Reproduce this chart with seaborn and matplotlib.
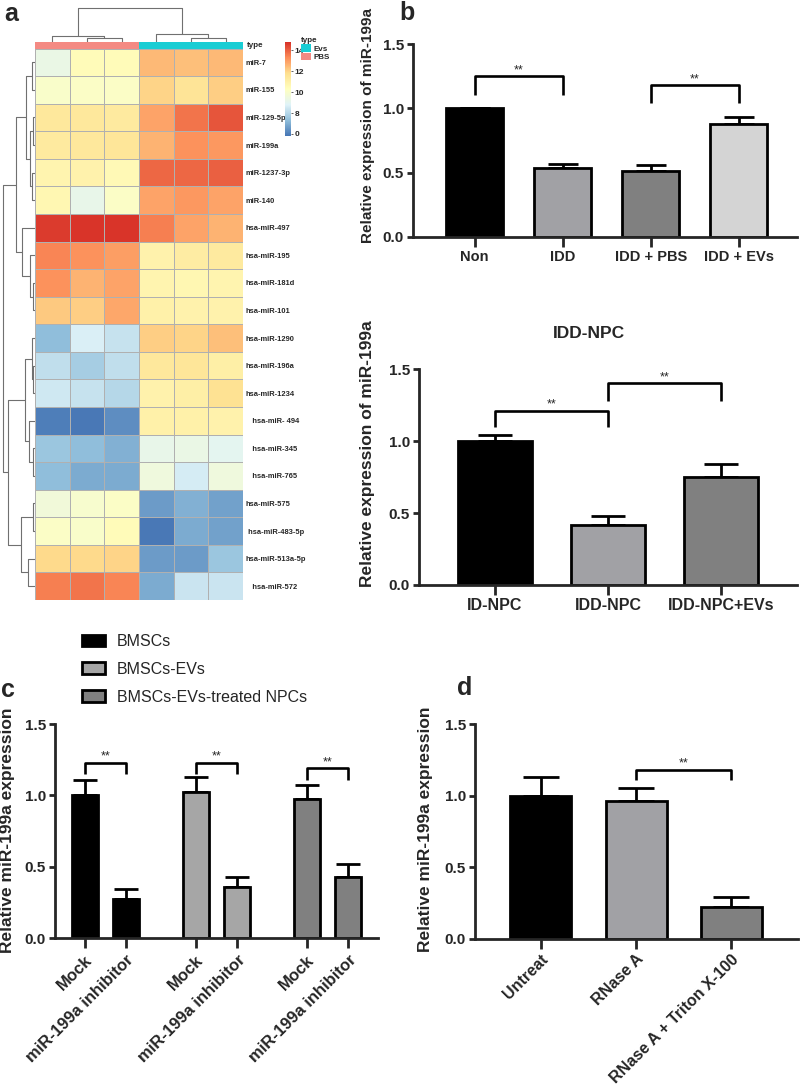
import matplotlib
matplotlib.use('Agg')
import matplotlib.pyplot as plt
import seaborn as sns
import pandas as pd
import numpy as np
from matplotlib.colors import LinearSegmentedColormap, ListedColormap
from matplotlib.patches import Patch

# ---------------- data ----------------
# panel a heatmap (3 PBS columns, then 3 EVs columns)
mirnas = ['miR-7', 'miR-155', 'miR-129-5p', 'miR-199a', 'miR-1237-3p', 'miR-140',
          'hsa-miR-497', 'hsa-miR-195', 'hsa-miR-181d', 'hsa-miR-101', 'hsa-miR-1290',
          'hsa-miR-196a', 'hsa-miR-1234', '   hsa-miR- 494', '   hsa-miR-345', '   hsa-miR-765',
          'hsa-miR-575', ' hsa-miR-483-5p', 'hsa-miR-513a-5p', '   hsa-miR-572']
sample_type = ['PBS', 'PBS', 'PBS', 'Evs', 'Evs', 'Evs']
expr = [
    [9.3, 10.5, 10.5, 12.5, 12.4, 12.5],
    [10.0, 10.1, 10.1, 12.0, 11.6, 12.1],
    [11.4, 11.4, 11.3, 12.9, 13.7, 14.2],
    [11.3, 11.4, 11.5, 12.6, 13.2, 13.1],
    [10.8, 10.9, 10.6, 13.9, 13.9, 14.0],
    [10.7, 9.2, 10.1, 12.9, 13.1, 12.9],
    [14.6, 14.7, 14.7, 13.5, 12.9, 12.6],
    [13.4, 13.2, 13.0, 10.9, 11.2, 11.3],
    [13.2, 12.6, 12.9, 10.8, 10.7, 10.8],
    [12.2, 12.1, 12.8, 11.0, 10.9, 10.9],
    [7.3, 8.7, 8.3, 12.1, 12.0, 12.4],
    [8.2, 7.7, 8.2, 11.4, 11.5, 11.1],
    [8.5, 8.3, 8.0, 10.9, 11.1, 11.7],
    [6.0, 5.9, 6.3, 11.0, 11.0, 10.9],
    [7.5, 7.3, 7.0, 9.2, 9.3, 9.0],
    [7.3, 6.9, 6.9, 9.5, 8.6, 9.5],
    [9.6, 9.9, 10.1, 6.6, 7.0, 6.7],
    [10.1, 10.0, 10.5, 5.9, 6.9, 6.7],
    [11.9, 11.9, 12.0, 6.6, 6.6, 7.5],
    [13.5, 13.7, 13.4, 6.9, 8.4, 8.4],
]
cbar_ticks = [14, 12, 10, 8, 6]
cbar_ticklabels = ['14', '12', '10', '8', '0']
# dendrogram merges: (node a, node b, height); new nodes numbered after leaves
row_merges = [(0, 1, 2.7), (2, 3, 1.7), (4, 5, 2.7), (21, 22, 5), (20, 23, 9),
              (8, 9, 1.7), (7, 25, 5), (6, 26, 13.3), (24, 27, 19),
              (11, 12, 2), (10, 29, 3.5), (14, 15, 1.7), (13, 31, 5.7), (30, 32, 10),
              (16, 17, 2.3), (18, 19, 6.7), (34, 35, 14.3), (33, 36, 26.7), (28, 37, 32.3)]
col_merges = [(1, 2, 4.3), (0, 6, 6), (4, 5, 4.3), (3, 8, 7.7), (7, 9, 33.7)]

# panel b (top)
b1_groups = ['Non', 'IDD', 'IDD + PBS', 'IDD + EVs']
b1_mean = [1.0, 0.54, 0.51, 0.88]
b1_sd = [0.0, 0.03, 0.05, 0.055]
# panel b (bottom)
b2_groups = ['ID-NPC', 'IDD-NPC', 'IDD-NPC+EVs']
b2_mean = [1.0, 0.42, 0.75]
b2_sd = [0.04, 0.06, 0.09]
# panel c
c_groups = ['BMSCs', 'BMSCs-EVs', 'BMSCs-EVs-treated NPCs']
c_conditions = ['Mock', 'miR-199a inhibitor']
c_mean = [1.0, 0.275, 1.02, 0.355, 0.975, 0.43]
c_sd = [0.11, 0.07, 0.11, 0.075, 0.095, 0.09]
# panel d
d_groups = ['Untreat', 'RNase A', 'RNase A + Triton X-100']
d_mean = [1.0, 0.965, 0.225]
d_sd = [0.13, 0.09, 0.07]

# ---------------- style ----------------
sns.set_style('ticks')
plt.rcParams['font.family'] = ['Liberation Sans', 'DejaVu Sans']
plt.rcParams['font.weight'] = 'bold'
plt.rcParams['axes.labelweight'] = 'bold'

W, H = 800, 1088
fig = plt.figure(figsize=(W / 100, H / 100), dpi=100)


def box(l, t, r, b):
    return [l / W, 1 - b / H, (r - l) / W, (b - t) / H]


def draw_dendro(ax, merges, n, side):
    pos = {i: i + 0.5 for i in range(n)}
    hgt = {i: 0.0 for i in range(n)}
    for k, (a, b, h) in enumerate(merges):
        xs = [pos[a], pos[a], pos[b], pos[b]]
        ys = [hgt[a], h, h, hgt[b]]
        if side == 'top':
            ax.plot(xs, ys, color='#707070', lw=0.8)
        else:
            ax.plot(ys, xs, color='#707070', lw=0.8)
        pos[n + k] = (pos[a] + pos[b]) / 2
        hgt[n + k] = h
    ax.axis('off')


def style_bar_axes(ax, xlim, ylabel, label_xy, ylabel_size):
    ax.set_xlim(*xlim)
    ax.set_ylim(0, 1.5)
    ax.set_yticks([0, 0.5, 1.0, 1.5])
    ax.set_yticklabels(['0.0', '0.5', '1.0', '1.5'])
    sns.despine(ax=ax)
    for s in ['left', 'bottom']:
        ax.spines[s].set_linewidth(2)
    ax.tick_params(axis='y', length=4.5, width=2, labelsize=11, pad=2)
    ax.tick_params(axis='x', length=7.5, width=2, pad=2)
    ax.set_xlabel('')
    ax.set_ylabel(ylabel, fontsize=ylabel_size, fontweight='bold')
    ax.yaxis.set_label_coords(*label_xy)


def add_errors(ax, xs, means, sds, cap):
    ax.errorbar(xs, means, yerr=[np.zeros(len(sds)), sds], fmt='none',
                ecolor='black', elinewidth=2, capsize=cap, capthick=2, zorder=1)


def add_bracket(ax, x1, x2, top, leg):
    ax.plot([x1, x1, x2, x2], [leg, top, top, leg], color='black', lw=1.9,
            clip_on=False, solid_capstyle='butt')
    ax.text((x1 + x2) / 2, top, '**', ha='center', va='bottom', fontsize=9,
            fontweight='normal', clip_on=False)


# ---------------- panel a ----------------
cmap = LinearSegmentedColormap.from_list(
    'pheat', ['#4575b4', '#91bfdb', '#e0f3f8', '#ffffbf', '#fee090', '#fc8d59', '#d73027'])
hm_df = pd.DataFrame(expr, index=mirnas)

ax_hm = fig.add_axes(box(35, 48.5, 243, 600))
ax_cb = fig.add_axes(box(284.5, 42, 290.5, 136))
sns.heatmap(hm_df, ax=ax_hm, cmap=cmap, vmin=5.8, vmax=14.8, cbar_ax=ax_cb,
            linewidths=0.6, linecolor='#b0b0b0', xticklabels=False, yticklabels=True)
ax_hm.yaxis.tick_right()
ax_hm.tick_params(axis='y', length=0, pad=2)
ax_hm.set_yticklabels(mirnas, rotation=0, ha='left', fontsize=5.4, fontweight='bold')
ax_hm.set_ylabel('')
cb = ax_hm.collections[0].colorbar
cb.outline.set_visible(False)
cb.set_ticks(cbar_ticks)
cb.set_ticklabels(cbar_ticklabels)
cb.ax.tick_params(length=1.5, width=0.5, labelsize=6, pad=1.5)
for t in cb.ax.get_yticklabels():
    t.set_fontweight('bold')

type_levels = ['PBS', 'Evs']
type_colors = ['#f48a83', '#1acdd4']
ax_ann = fig.add_axes(box(35, 42, 243, 48.5))
ann_codes = pd.DataFrame([[type_levels.index(s) for s in sample_type]])
sns.heatmap(ann_codes, ax=ax_ann, cmap=ListedColormap(type_colors), vmin=-0.5, vmax=1.5,
            cbar=False, xticklabels=False, yticklabels=False, linewidths=0)
fig.text(247 / W, 1 - 45.5 / H, 'type', fontsize=5.8, va='center', ha='left')

ax_cd = fig.add_axes(box(35, 0, 243, 42))
draw_dendro(ax_cd, col_merges, 6, 'top')
ax_cd.set_xlim(0, 6)
ax_cd.set_ylim(0, 42)

ax_rd = fig.add_axes(box(0, 48.5, 35, 600))
draw_dendro(ax_rd, row_merges, 20, 'left')
ax_rd.set_xlim(35, 0)
ax_rd.set_ylim(20, 0)

type_handles = [Patch(facecolor=type_colors[1], edgecolor='none'),
                Patch(facecolor=type_colors[0], edgecolor='none')]
fig.legend(type_handles, ['Evs', 'PBS'], title='type', loc='upper left',
           bbox_to_anchor=(301 / W, 1 - 37 / H), frameon=False, fontsize=5.8,
           title_fontsize=5.8, handlelength=1.2, handleheight=1.1, handletextpad=0.3,
           labelspacing=0, borderpad=0, borderaxespad=0, alignment='left')

fig.text(4 / W, 1 - 21 / H, 'a', fontsize=18, fontweight='bold', va='baseline')

# ---------------- panel b top ----------------
ax_b1 = fig.add_axes(box(413, 44, 797, 237))
df_b1 = pd.DataFrame({'group': b1_groups, 'value': b1_mean})
sns.barplot(data=df_b1, x='group', y='value', hue='group', order=b1_groups,
            palette=['#000000', '#a1a1a5', '#808080', '#d4d4d4'], saturation=1,
            width=0.65, edgecolor='black', linewidth=2, errorbar=None, legend=False,
            ax=ax_b1, zorder=2)
add_errors(ax_b1, np.arange(len(b1_groups)), b1_mean, b1_sd, 11)
style_bar_axes(ax_b1, (-0.70, 3.66), 'Relative expression of miR-199a', (-0.098, 0.58), 11)
ax_b1.tick_params(axis='x', labelsize=10.5)
add_bracket(ax_b1, 0, 1, 1.25, 1.10)
add_bracket(ax_b1, 2, 3, 1.18, 1.04)
fig.text(399 / W, 1 - 20 / H, 'b', fontsize=18, fontweight='bold', va='baseline')

# ---------------- panel b bottom ----------------
ax_b2 = fig.add_axes(box(419, 369, 797, 585))
df_b2 = pd.DataFrame({'group': b2_groups, 'value': b2_mean})
sns.barplot(data=df_b2, x='group', y='value', hue='group', order=b2_groups,
            palette=['#000000', '#a1a1a5', '#808080'], saturation=1,
            width=0.65, edgecolor='black', linewidth=2, errorbar=None, legend=False,
            ax=ax_b2, zorder=2)
add_errors(ax_b2, np.arange(len(b2_groups)), b2_mean, b2_sd, 12)
style_bar_axes(ax_b2, (-0.67, 2.67), 'Relative expression of miR-199a', (-0.116, 0.61), 12.5)
ax_b2.tick_params(axis='x', labelsize=11.5)
ax_b2.set_title('IDD-NPC', fontsize=12.5, fontweight='bold', pad=22, x=0.45)
add_bracket(ax_b2, 0, 1, 1.21, 1.10)
add_bracket(ax_b2, 1, 2, 1.40, 1.28)

# ---------------- panel c ----------------
ax_c = fig.add_axes(box(55, 724, 378, 938))
c_rows = []
for gi, g in enumerate(c_groups):
    for ci, cond in enumerate(c_conditions):
        c_rows.append({'group': g, 'condition': cond, 'pos': gi * 2.67 + ci})
df_c = pd.DataFrame(c_rows)
df_c['value'] = c_mean
sns.barplot(data=df_c, x='pos', y='value', hue='group', hue_order=c_groups,
            native_scale=True, dodge=False,
            palette=['#000000', '#a6a6a6', '#808080'], saturation=1,
            width=0.625, edgecolor='black', linewidth=2, errorbar=None, legend=False,
            ax=ax_c, zorder=2)
add_errors(ax_c, df_c['pos'], c_mean, c_sd, 8.5)
style_bar_axes(ax_c, (-0.71, 7.05), 'Relative miR-199a expression', (-0.124, 0.505), 12.5)
ax_c.set_xticks(df_c['pos'])
ax_c.set_xticklabels(df_c['condition'], rotation=45, ha='right', rotation_mode='anchor',
                     fontsize=12, fontweight='bold')
ax_c.tick_params(axis='x', pad=3)
for k in range(len(c_groups)):
    p1, p2 = df_c['pos'][2 * k], df_c['pos'][2 * k + 1]
    if k < 2:
        add_bracket(ax_c, p1, p2, 1.23, 1.15)
    else:
        add_bracket(ax_c, p1, p2, 1.19, 1.11)
c_handles = [Patch(facecolor=col, edgecolor='black', linewidth=2)
             for col in ['#000000', '#a6a6a6', '#808080']]
fig.legend(c_handles, c_groups, loc='upper left', bbox_to_anchor=(82 / W, 1 - 634 / H),
           frameon=False, prop={'size': 11.5, 'weight': 'normal'}, handlelength=1.45,
           handleheight=0.75, handletextpad=0.75, labelspacing=0.8, borderpad=0,
           borderaxespad=0)
fig.text(1 / W, 1 - 697 / H, 'c', fontsize=18, fontweight='bold', va='baseline')

# ---------------- panel d ----------------
ax_d = fig.add_axes(box(475, 724, 798, 939))
df_d = pd.DataFrame({'group': d_groups, 'value': d_mean})
sns.barplot(data=df_d, x='group', y='value', hue='group', order=d_groups,
            palette=['#000000', '#a1a1a5', '#808080'], saturation=1,
            width=0.64, edgecolor='black', linewidth=2, errorbar=None, legend=False,
            ax=ax_d, zorder=2)
add_errors(ax_d, np.arange(len(d_groups)), d_mean, d_sd, 13)
style_bar_axes(ax_d, (-0.69, 2.70), 'Relative miR-199a expression', (-0.129, 0.51), 12.5)
ax_d.set_xticks(np.arange(len(d_groups)))
ax_d.set_xticklabels(d_groups, rotation=45, ha='right', rotation_mode='anchor',
                     fontsize=11.5, fontweight='bold')
ax_d.tick_params(axis='x', pad=1.5)
add_bracket(ax_d, 1, 2, 1.18, 1.11)
fig.text(457 / W, 1 - 695 / H, 'd', fontsize=18, fontweight='bold', va='baseline')

fig.savefig('out.png', dpi=100)
